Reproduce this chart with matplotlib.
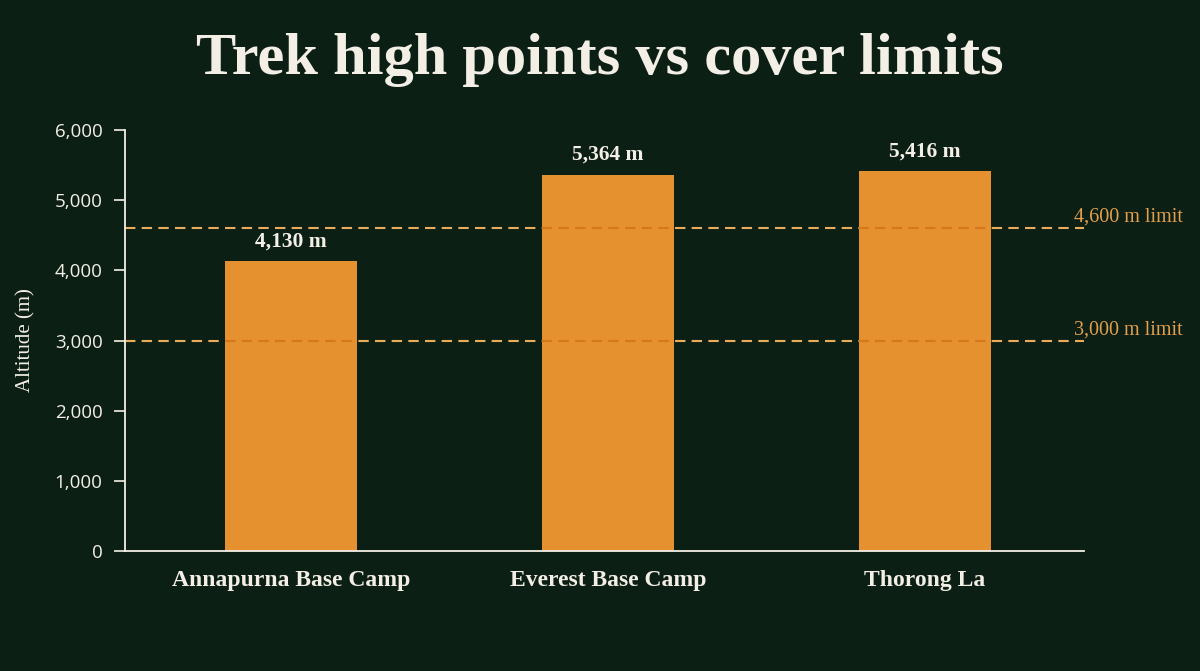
import matplotlib
matplotlib.use("Agg")
import matplotlib.pyplot as plt
from matplotlib.ticker import FuncFormatter

# Data
treks = ["Annapurna Base Camp", "Everest Base Camp", "Thorong La"]
altitudes = [4130, 5364, 5416]
limits = [4600, 3000]
limit_labels = ["4,600 m limit", "3,000 m limit"]
y_ticks = [0, 1000, 2000, 3000, 4000, 5000, 6000]

bg = "#0c1f14"
bar_color = "#e5912f"
line_color = "#e8ac5c"
line_on_bar = "#d6761e"
text_color = "#f3efe6"
serif = ["Liberation Serif", "DejaVu Serif"]
sans = ["Open Sans", "DejaVu Sans"]

fig = plt.figure(figsize=(12, 6.71), dpi=100, facecolor=bg)
ax = fig.add_axes([0.104, 0.179, 0.799, 0.627])
ax.set_facecolor(bg)

x = list(range(len(treks)))
bars = ax.bar(x, altitudes, width=0.415, color=bar_color, zorder=2)

for xi, v in zip(x, altitudes):
    ax.text(xi, v + 140, f"{v:,} m", ha="center", va="bottom",
            color=text_color, fontsize=15.5, fontweight="bold", family=serif)

dash = (0, (5, 3))
for lim, lab in zip(limits, limit_labels):
    ax.axhline(lim, color=line_color, lw=1.5, ls=dash, zorder=1.5)
    # darker segment where the line crosses the bars
    for b in bars:
        ln = ax.axhline(lim, color=line_on_bar, lw=1.5, ls=dash, zorder=3)
        ln.set_clip_path(b)
    ax.text(2.47, lim + 20, lab, ha="left", va="bottom", color="#e3a04e",
            fontsize=14.5, family=serif, clip_on=False)

ax.set_xlim(-0.525, 2.5)
ax.set_ylim(0, 6000)
ax.set_yticks(y_ticks)
ax.yaxis.set_major_formatter(FuncFormatter(lambda v, p: f"{int(v):,}"))
ax.set_xticks(x)
ax.set_xticklabels(treks, fontsize=17, fontweight="bold", family=serif, color=text_color)
for t in ax.get_yticklabels():
    t.set_family(sans)
ax.tick_params(axis="y", colors=text_color, labelsize=13.5, length=8, width=1.2, pad=8)
ax.tick_params(axis="x", length=0, pad=14)

for s in ["top", "right"]:
    ax.spines[s].set_visible(False)
for s in ["left", "bottom"]:
    ax.spines[s].set_color(text_color)
    ax.spines[s].set_linewidth(1.3)

ax.set_ylabel("Altitude (m)", color=text_color, fontsize=15, family=serif, labelpad=14)

fig.text(0.5, 0.91, "Trek high points vs cover limits", ha="center", va="center",
         color=text_color, fontsize=43.5, fontweight="bold", family=serif)

fig.savefig("out.png", dpi=100, facecolor=bg)
